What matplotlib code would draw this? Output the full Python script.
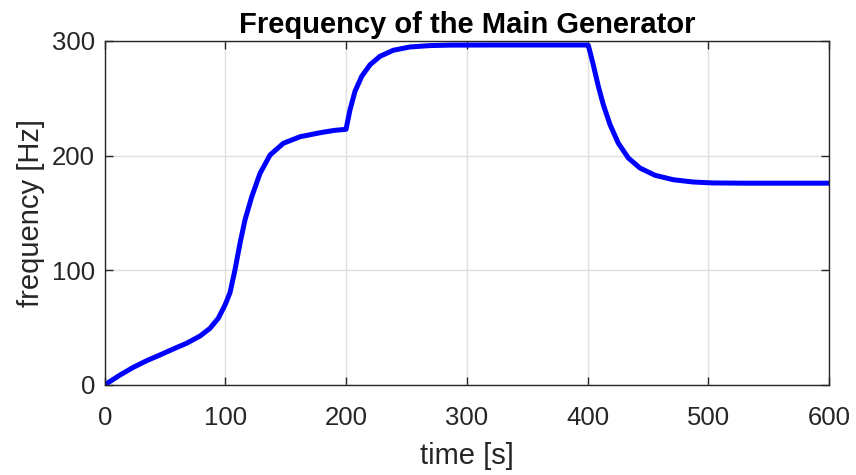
import matplotlib
matplotlib.use("Agg")
import matplotlib.pyplot as plt

# frequency trace (time in s, frequency in Hz)
time_s = [0, 1.6, 12.7, 23.7, 34.8, 45.8, 56.8, 67.9, 79, 87.2, 94.1, 99.7,
          103.8, 107.9, 112.1, 116.2, 121.8, 128.7, 137, 148, 161.8, 178.4, 190, 199.9,
          203.2, 207.3, 212.9, 219.8, 228, 239, 252.9, 269.5, 286, 320, 360, 399.5,
          400.6, 404.7, 408.9, 413, 418.6, 425.4, 433.7, 443.4, 455.8, 471, 487.6,
          504, 530, 560, 600]
freq_hz = [0, 1.2, 8.7, 15.4, 21.2, 26.2, 31.4, 36.4, 42.7, 49.4, 58.2, 69.8,
           80.5, 100.3, 123.6, 143.9, 164.2, 184.6, 200.6, 210.8, 216.5, 220, 222, 223,
           240, 256, 269.2, 279.3, 286.6, 291.9, 294.8, 296, 296.4, 296.5, 296.5, 296.5,
           296.2, 279.3, 260.5, 244.5, 227, 211, 198, 189.2, 182.9, 179, 177,
           176.2, 176, 176, 176]

x_ticks = [0, 100, 200, 300, 400, 500, 600]
y_ticks = [0, 100, 200, 300]

plt.rcParams.update({
    "font.family": ["Liberation Sans", "DejaVu Sans"],
    "xtick.direction": "in",
    "ytick.direction": "in",
    "xtick.top": True,
    "ytick.right": True,
})

DARK = "#262626"

fig = plt.figure(figsize=(8.56, 4.75), dpi=100)
ax = fig.add_axes([0.1223, 0.1895, 0.8462, 0.7242])

ax.plot(time_s, freq_hz, color="#0000ff", linewidth=3.6,
        solid_joinstyle="round", solid_capstyle="butt")

ax.set_xlim(0, 600)
ax.set_ylim(0, 300)
ax.set_xticks(x_ticks)
ax.set_yticks(y_ticks)
ax.grid(True, color="#dfdfdf", linewidth=1.0)
ax.set_axisbelow(True)

for s in ax.spines.values():
    s.set_color(DARK)
    s.set_linewidth(1.0)
ax.tick_params(colors=DARK, labelsize=18.5, length=6, width=1.0)
ax.tick_params(axis="x", pad=15)
ax.tick_params(axis="y", pad=7)

ax.set_xlabel("time [s]", fontsize=21, color=DARK, labelpad=9)
ax.set_ylabel("frequency [Hz]", fontsize=21, color=DARK, labelpad=5)
ax.set_title("Frequency of the Main Generator", fontsize=21, fontweight="bold",
             color="black", pad=6)

fig.savefig("out.png", dpi=100)
